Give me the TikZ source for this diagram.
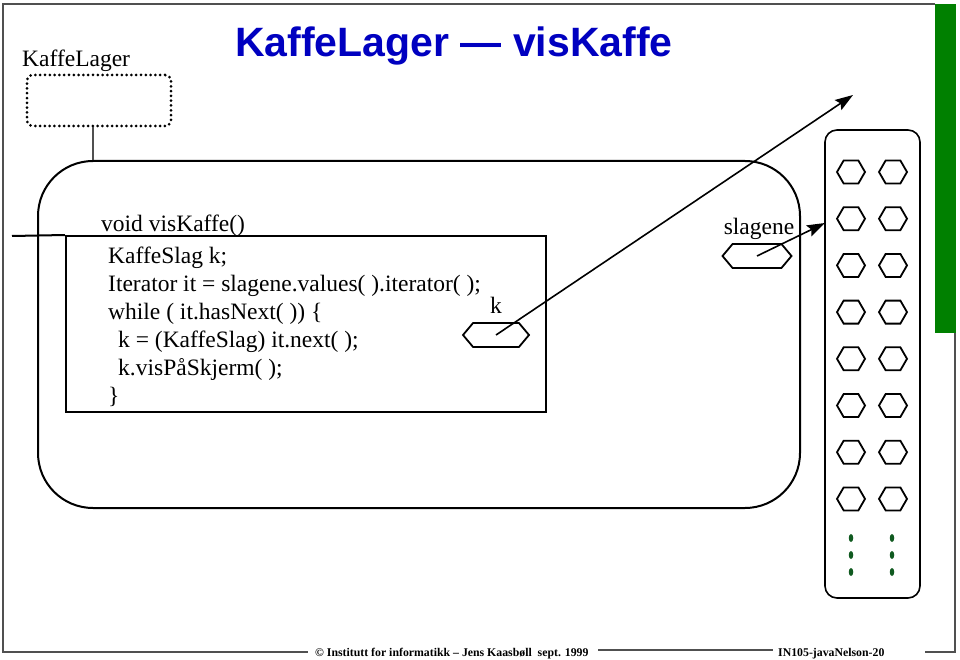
\documentclass[tikz,border=0pt]{standalone}
\usepackage{fontspec}
\setmainfont{Liberation Serif}
\newfontfamily\titlefont{Liberation Sans}
\usetikzlibrary{shapes.symbols, shapes.geometric, arrows.meta, positioning}
\definecolor{titleblue}{RGB}{0,0,192}
\definecolor{bargreen}{RGB}{0,128,0}
\definecolor{dotgreen}{RGB}{16,90,32}
\definecolor{framegray}{RGB}{80,80,80}
\tikzstyle{hexa} = [signal, signal to=west and east, draw, line width=1.8pt, minimum width=28pt, minimum height=23pt, signal pointer angle=120, inner sep=0pt]
\tikzstyle{var} = [hexa, minimum width=66pt, minimum height=24pt, signal pointer angle=100]
\tikzstyle{code} = [font=\fontsize{23.5}{28}\selectfont, align=left, inner sep=0pt]
\tikzstyle{arrow} = [line width=1.6pt, -{Stealth[length=18pt,width=12pt,inset=3pt]}]
\tikzstyle{frame} = [draw=framegray, line width=1.5pt]
\tikzstyle{dot} = [ellipse, fill=dotgreen, minimum width=4.5pt, minimum height=8pt, inner sep=0pt]
\tikzstyle{foot} = [anchor=base west, inner sep=0pt, font=\bfseries\fontsize{11.8}{12}\selectfont]

\begin{document}
\begin{tikzpicture}[x=1pt, y=-1pt, node distance=46.7pt]
    \useasboundingbox (0,0) rectangle (960,660);

    % Slide frame
    \fill[bargreen] (935,4) rectangle (956,333);
    \draw[frame] (935,4) -- (3,4) -- (3,652) -- (308,652);
    \draw[frame] (598,650) -- (773,650);
    \draw[frame] (925,652) -- (955,652) -- (955,333);

    % Title
    \node (title) [anchor=base west, inner sep=0pt, text=titleblue, font=\titlefont\bfseries\fontsize{41}{44}\selectfont] at (235,57) {KaffeLager — visKaffe};

    % KaffeLager object
    \node (lagerlabel) [code, anchor=base west] at (22,67) {KaffeLager};
    \node (lager) [draw, line width=3pt, dash pattern=on 0pt off 4.8pt, line cap=round, rounded corners=6pt, minimum width=144pt, minimum height=51pt] at (99,100.5) {};
    \node (object) [draw, line width=2pt, rounded corners=55pt, minimum width=762pt, minimum height=347pt] at (419,334.5) {};
    \draw[framegray, line width=1.2pt] ([xshift=-6pt]lager.south) -- ([xshift=-6pt]lager.south |- object.north);

    % Method visKaffe
    \node (method) [draw, line width=2pt, minimum width=480pt, minimum height=176pt] at (306,324) {};
    \coordinate (callin) at (12,236);
    \draw[line width=2pt] (callin) -- (method.north west);
    \node (signature) [code, anchor=base west] at (101,232) {void visKaffe()};
    \node (body) [code, anchor=north west] at (108,247) {KaffeSlag k;\\
        Iterator it = slagene.values( ).iterator( );\\
        while ( it.hasNext( )) \{\\
        \hspace*{10pt}k = (KaffeSlag) it.next( );\\
        \hspace*{10pt}k.visPåSkjerm( );\\
        \}};

    % Variables
    \node (klabel) [code, anchor=base] at (496,313) {k};
    \node (kvar) [var] at (496,335) {};
    \node (slaglabel) [code, anchor=base] at (759,235) {slagene};
    \node (slagvar) [var, minimum width=69pt] at (757,256) {};

    % Collection of KaffeSlag
    \node (samling) [draw, line width=1.6pt, rounded corners=12pt, minimum width=95pt, minimum height=468pt] at (872.5,364) {};
    \node (h11) [hexa] at (851,172) {};
    \node (h12) [hexa] at (893,172) {};
    \node (h21) [hexa, below of=h11] {};
    \node (h22) [hexa, below of=h12] {};
    \node (h31) [hexa, below of=h21] {};
    \node (h32) [hexa, below of=h22] {};
    \node (h41) [hexa, below of=h31] {};
    \node (h42) [hexa, below of=h32] {};
    \node (h51) [hexa, below of=h41] {};
    \node (h52) [hexa, below of=h42] {};
    \node (h61) [hexa, below of=h51] {};
    \node (h62) [hexa, below of=h52] {};
    \node (h71) [hexa, below of=h61] {};
    \node (h72) [hexa, below of=h62] {};
    \node (h81) [hexa, below of=h71] {};
    \node (h82) [hexa, below of=h72] {};

    % More elements
    \node (d11) [dot] at (851,538) {};
    \node (d12) [dot, below of=d11, node distance=17pt] {};
    \node (d13) [dot, below of=d12, node distance=17pt] {};
    \node (d21) [dot] at (892,538) {};
    \node (d22) [dot, below of=d21, node distance=17pt] {};
    \node (d23) [dot, below of=d22, node distance=17pt] {};

    % References
    \coordinate (kref) at (853,95);
    \coordinate (slagref) at (825,223);
    \draw [arrow] (kvar.center) -- (kref);
    \draw [arrow] (slagvar.center) -- (slagref);

    % Footer
    \node (footleft) [foot] at (315,656) {© Institutt for informatikk – Jens Kaasbøll\ \ sept. 1999};
    \node (footright) [foot] at (778,656) {IN105-javaNelson-20};
\end{tikzpicture}
\end{document}
